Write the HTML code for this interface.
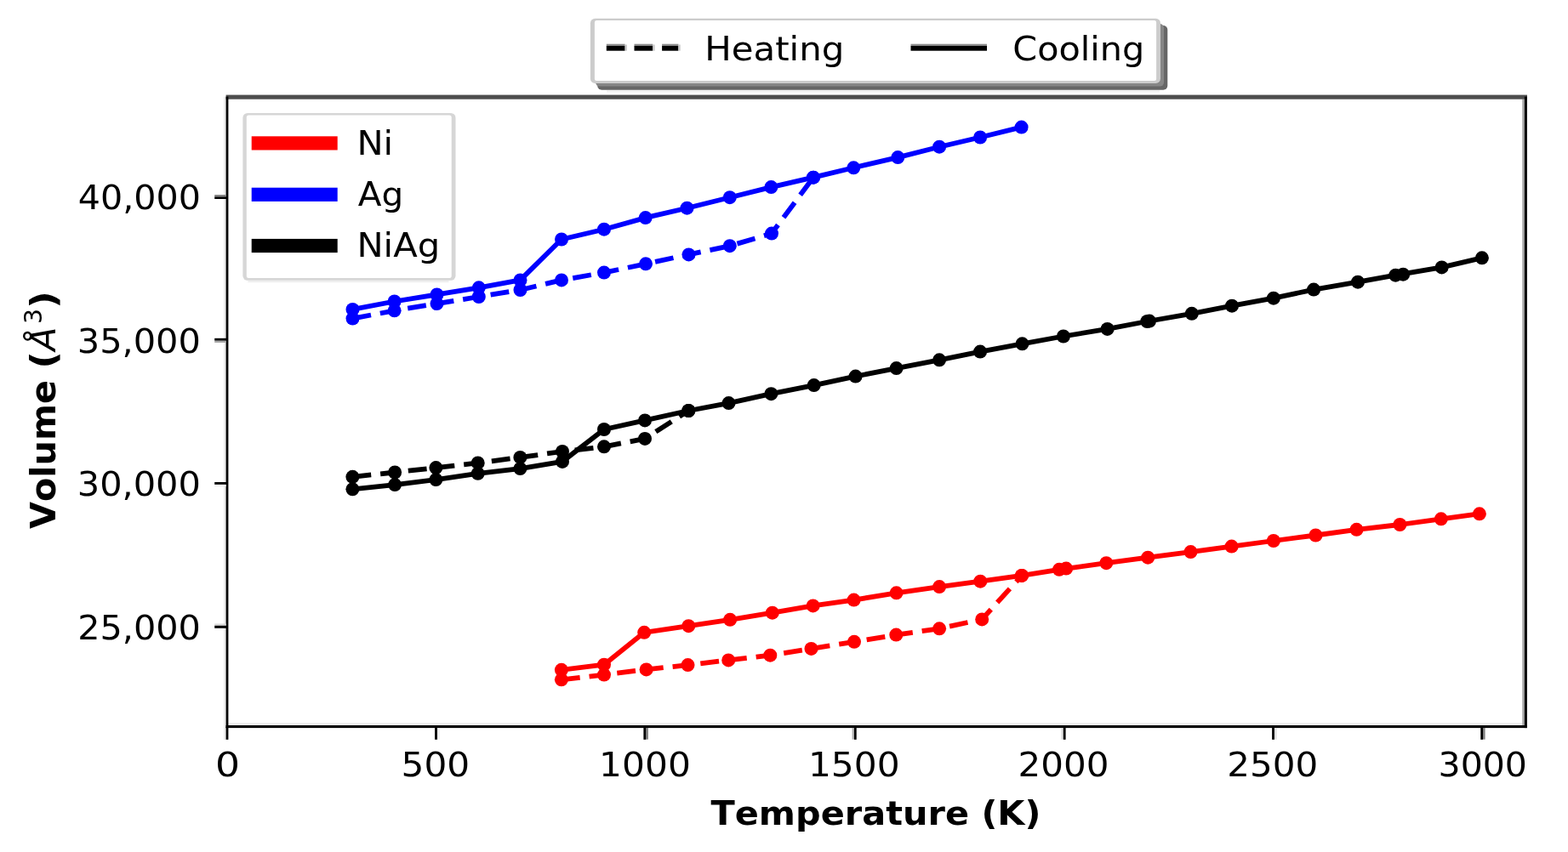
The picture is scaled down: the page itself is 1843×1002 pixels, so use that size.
<!DOCTYPE html>
<html lang="en">
<head>
<meta charset="utf-8">
<title>Volume vs Temperature</title>
<style>
html,body{margin:0;padding:0;background:#fff;}
body{width:1843px;height:1002px;overflow:hidden;}
svg{display:block;}
text{font-family:'DejaVu Sans','Liberation Sans',sans-serif;fill:#000;font-kerning:none;}
.b{font-weight:bold;}
</style>
</head>
<body>
<svg width="1843" height="1002" viewBox="0 0 1843 1002">
<g id="figure">
<rect x="0" y="0" width="1843" height="1002" fill="#ffffff"/>

<g id="data">
<polyline points="414.5,374.6 463.6,365.3 513.5,357.1 562.8,349.0 611.5,341.0 660.0,329.4 710.0,320.6 759.0,310.3 809.5,299.4 857.8,289.2 907.0,274.6 956.0,208.7" fill="none" stroke="#0000ff" stroke-width="5.8" stroke-dasharray="21.9 11.0" stroke-dashoffset="0" stroke-linejoin="round"/>
<polyline points="414.5,363.9 463.6,354.5 513.5,346.4 562.8,338.3 611.5,329.4 660.0,281.5 710.0,269.7 758.7,256.1 807.5,244.7 857.8,232.2 906.4,220.1 956.0,208.7 1003.3,197.3 1055.3,185.1 1104.1,172.7 1152.1,161.5 1200.6,149.6" fill="none" stroke="#0000ff" stroke-width="5.8" stroke-linejoin="round" stroke-linecap="square"/>
<circle cx="414.5" cy="363.9" r="8.0" fill="#0000ff"/>
<circle cx="463.6" cy="354.5" r="8.0" fill="#0000ff"/>
<circle cx="513.5" cy="346.4" r="8.0" fill="#0000ff"/>
<circle cx="562.8" cy="338.3" r="8.0" fill="#0000ff"/>
<circle cx="611.5" cy="329.4" r="8.0" fill="#0000ff"/>
<circle cx="660.0" cy="281.5" r="8.0" fill="#0000ff"/>
<circle cx="710.0" cy="269.7" r="8.0" fill="#0000ff"/>
<circle cx="758.7" cy="256.1" r="8.0" fill="#0000ff"/>
<circle cx="807.5" cy="244.7" r="8.0" fill="#0000ff"/>
<circle cx="857.8" cy="232.2" r="8.0" fill="#0000ff"/>
<circle cx="906.4" cy="220.1" r="8.0" fill="#0000ff"/>
<circle cx="956.0" cy="208.7" r="8.0" fill="#0000ff"/>
<circle cx="1003.3" cy="197.3" r="8.0" fill="#0000ff"/>
<circle cx="1055.3" cy="185.1" r="8.0" fill="#0000ff"/>
<circle cx="1104.1" cy="172.7" r="8.0" fill="#0000ff"/>
<circle cx="1152.1" cy="161.5" r="8.0" fill="#0000ff"/>
<circle cx="1200.6" cy="149.6" r="8.0" fill="#0000ff"/>
<circle cx="414.5" cy="374.6" r="8.0" fill="#0000ff"/>
<circle cx="463.6" cy="365.3" r="8.0" fill="#0000ff"/>
<circle cx="513.5" cy="357.1" r="8.0" fill="#0000ff"/>
<circle cx="562.8" cy="349.0" r="8.0" fill="#0000ff"/>
<circle cx="611.5" cy="341.0" r="8.0" fill="#0000ff"/>
<circle cx="660.0" cy="329.4" r="8.0" fill="#0000ff"/>
<circle cx="710.0" cy="320.6" r="8.0" fill="#0000ff"/>
<circle cx="759.0" cy="310.3" r="8.0" fill="#0000ff"/>
<circle cx="809.5" cy="299.4" r="8.0" fill="#0000ff"/>
<circle cx="857.8" cy="289.2" r="8.0" fill="#0000ff"/>
<circle cx="907.0" cy="274.6" r="8.0" fill="#0000ff"/>
<circle cx="956.0" cy="208.7" r="8.0" fill="#0000ff"/>
<polyline points="414.4,560.8 464.1,555.5 512.4,550.1 561.7,544.4 611.4,537.9 661.0,531.0 710.0,525.3 758.0,515.9 809.3,483.0" fill="none" stroke="#000000" stroke-width="5.8" stroke-dasharray="21.9 11.0" stroke-dashoffset="0" stroke-linejoin="round"/>
<polyline points="414.4,575.3 464.1,570.1 512.4,564.1 561.7,556.8 611.4,551.1 661.0,542.9 710.0,505.0 758.0,494.4 809.3,483.0 856.5,474.1 906.4,463.2 956.7,453.1 1005.6,442.6 1053.6,433.1 1104.1,423.3 1152.1,413.6 1201.5,404.3 1249.9,395.5 1301.6,386.9 1348.3,378.0 1400.8,368.8 1448.0,359.7 1496.9,350.7 1544.1,340.6 1596.0,331.7 1640.3,323.7 1694.6,314.4 1741.9,303.3" fill="none" stroke="#000000" stroke-width="5.8" stroke-linejoin="round" stroke-linecap="square"/>
<circle cx="414.4" cy="575.3" r="8.0" fill="#000000"/>
<circle cx="464.1" cy="570.1" r="8.0" fill="#000000"/>
<circle cx="512.4" cy="564.1" r="8.0" fill="#000000"/>
<circle cx="561.7" cy="556.8" r="8.0" fill="#000000"/>
<circle cx="611.4" cy="551.1" r="8.0" fill="#000000"/>
<circle cx="661.0" cy="542.9" r="8.0" fill="#000000"/>
<circle cx="710.0" cy="505.0" r="8.0" fill="#000000"/>
<circle cx="758.0" cy="494.4" r="8.0" fill="#000000"/>
<circle cx="809.3" cy="483.0" r="8.0" fill="#000000"/>
<circle cx="856.5" cy="474.1" r="8.0" fill="#000000"/>
<circle cx="906.4" cy="463.2" r="8.0" fill="#000000"/>
<circle cx="956.7" cy="453.1" r="8.0" fill="#000000"/>
<circle cx="1005.6" cy="442.6" r="8.0" fill="#000000"/>
<circle cx="1053.6" cy="433.1" r="8.0" fill="#000000"/>
<circle cx="1104.1" cy="423.3" r="8.0" fill="#000000"/>
<circle cx="1152.1" cy="413.6" r="8.0" fill="#000000"/>
<circle cx="1201.5" cy="404.3" r="8.0" fill="#000000"/>
<circle cx="1249.9" cy="395.5" r="8.0" fill="#000000"/>
<circle cx="1301.6" cy="386.9" r="8.0" fill="#000000"/>
<circle cx="1348.3" cy="378.0" r="8.0" fill="#000000"/>
<circle cx="1400.8" cy="368.8" r="8.0" fill="#000000"/>
<circle cx="1448.0" cy="359.7" r="8.0" fill="#000000"/>
<circle cx="1496.9" cy="350.7" r="8.0" fill="#000000"/>
<circle cx="1544.1" cy="340.6" r="8.0" fill="#000000"/>
<circle cx="1596.0" cy="331.7" r="8.0" fill="#000000"/>
<circle cx="1640.3" cy="323.7" r="8.0" fill="#000000"/>
<circle cx="1694.6" cy="314.4" r="8.0" fill="#000000"/>
<circle cx="1741.9" cy="303.3" r="8.0" fill="#000000"/>
<circle cx="414.4" cy="560.8" r="8.0" fill="#000000"/>
<circle cx="464.1" cy="555.5" r="8.0" fill="#000000"/>
<circle cx="512.4" cy="550.1" r="8.0" fill="#000000"/>
<circle cx="561.7" cy="544.4" r="8.0" fill="#000000"/>
<circle cx="611.4" cy="537.9" r="8.0" fill="#000000"/>
<circle cx="661.0" cy="531.0" r="8.0" fill="#000000"/>
<circle cx="710.0" cy="525.3" r="8.0" fill="#000000"/>
<circle cx="758.0" cy="515.9" r="8.0" fill="#000000"/>
<circle cx="809.3" cy="483.0" r="8.0" fill="#000000"/>
<circle cx="1649.2" cy="322.7" r="8.0" fill="#000000"/>
<circle cx="1351.0" cy="377.6" r="8.0" fill="#000000"/>
<polyline points="659.9,799.3 710.0,793.6 759.6,787.4 808.5,782.1 856.2,776.4 905.3,770.7 953.5,762.9 1004.0,754.8 1053.3,746.6 1104.1,739.3 1154.2,728.4 1201.0,676.9" fill="none" stroke="#ff0000" stroke-width="5.8" stroke-dasharray="21.9 11.0" stroke-dashoffset="0" stroke-linejoin="round"/>
<polyline points="659.9,787.8 710.0,781.7 757.2,743.8 809.3,736.2 858.1,728.8 907.8,720.7 955.6,712.4 1003.6,705.6 1053.6,697.3 1104.1,690.1 1152.3,683.7 1201.0,676.9 1245.0,669.8 1300.3,662.2 1349.2,655.7 1399.5,649.1 1447.6,642.6 1496.9,636.0 1546.4,629.5 1594.5,622.8 1645.4,617.0 1693.8,610.3 1738.9,604.3" fill="none" stroke="#ff0000" stroke-width="5.8" stroke-linejoin="round" stroke-linecap="square"/>
<circle cx="659.9" cy="787.8" r="8.0" fill="#ff0000"/>
<circle cx="710.0" cy="781.7" r="8.0" fill="#ff0000"/>
<circle cx="757.2" cy="743.8" r="8.0" fill="#ff0000"/>
<circle cx="809.3" cy="736.2" r="8.0" fill="#ff0000"/>
<circle cx="858.1" cy="728.8" r="8.0" fill="#ff0000"/>
<circle cx="907.8" cy="720.7" r="8.0" fill="#ff0000"/>
<circle cx="955.6" cy="712.4" r="8.0" fill="#ff0000"/>
<circle cx="1003.6" cy="705.6" r="8.0" fill="#ff0000"/>
<circle cx="1053.6" cy="697.3" r="8.0" fill="#ff0000"/>
<circle cx="1104.1" cy="690.1" r="8.0" fill="#ff0000"/>
<circle cx="1152.3" cy="683.7" r="8.0" fill="#ff0000"/>
<circle cx="1201.0" cy="676.9" r="8.0" fill="#ff0000"/>
<circle cx="1245.0" cy="669.8" r="8.0" fill="#ff0000"/>
<circle cx="1300.3" cy="662.2" r="8.0" fill="#ff0000"/>
<circle cx="1349.2" cy="655.7" r="8.0" fill="#ff0000"/>
<circle cx="1399.5" cy="649.1" r="8.0" fill="#ff0000"/>
<circle cx="1447.6" cy="642.6" r="8.0" fill="#ff0000"/>
<circle cx="1496.9" cy="636.0" r="8.0" fill="#ff0000"/>
<circle cx="1546.4" cy="629.5" r="8.0" fill="#ff0000"/>
<circle cx="1594.5" cy="622.8" r="8.0" fill="#ff0000"/>
<circle cx="1645.4" cy="617.0" r="8.0" fill="#ff0000"/>
<circle cx="1693.8" cy="610.3" r="8.0" fill="#ff0000"/>
<circle cx="1738.9" cy="604.3" r="8.0" fill="#ff0000"/>
<circle cx="659.9" cy="799.3" r="8.0" fill="#ff0000"/>
<circle cx="710.0" cy="793.6" r="8.0" fill="#ff0000"/>
<circle cx="759.6" cy="787.4" r="8.0" fill="#ff0000"/>
<circle cx="808.5" cy="782.1" r="8.0" fill="#ff0000"/>
<circle cx="856.2" cy="776.4" r="8.0" fill="#ff0000"/>
<circle cx="905.3" cy="770.7" r="8.0" fill="#ff0000"/>
<circle cx="953.5" cy="762.9" r="8.0" fill="#ff0000"/>
<circle cx="1004.0" cy="754.8" r="8.0" fill="#ff0000"/>
<circle cx="1053.3" cy="746.6" r="8.0" fill="#ff0000"/>
<circle cx="1104.1" cy="739.3" r="8.0" fill="#ff0000"/>
<circle cx="1154.2" cy="728.4" r="8.0" fill="#ff0000"/>
<circle cx="1201.0" cy="676.9" r="8.0" fill="#ff0000"/>
<circle cx="1253.1" cy="668.6" r="8.0" fill="#ff0000"/>
</g>
<g id="axes">
<rect x="268.3" y="850.2" width="1521" height="2.8" fill="#ededed"/>
<rect x="263.2" y="114" width="2.4" height="756" fill="#ececec"/>
<rect x="1789.3" y="116.6" width="2.6" height="737" fill="#a4a4a4"/>
<rect x="265.6" y="111.6" width="1529.4" height="5.1" fill="#4d4d4d"/>
<rect x="265.6" y="113.6" width="2.8" height="742.5" fill="#000"/>
<rect x="1791.9" y="113.6" width="3.0" height="742.5" fill="#000"/>
<rect x="265.6" y="853.0" width="1529.3" height="3.1" fill="#000"/>
<rect x="265.6" y="855" width="2.8" height="14.8" fill="#000"/>
<rect x="513.9" y="856" width="2.6" height="13.6" fill="#ececec"/>
<rect x="511.1" y="855" width="2.8" height="14.8" fill="#000"/>
<rect x="759.3" y="856" width="2.6" height="13.6" fill="#808080"/>
<rect x="756.4" y="855" width="2.9" height="14.8" fill="#000"/>
<rect x="1001.6" y="856" width="2.4" height="13.6" fill="#b0b0b0"/>
<rect x="1004.0" y="855" width="2.7" height="14.8" fill="#000"/>
<rect x="1247.4" y="856" width="2.4" height="13.6" fill="#dddddd"/>
<rect x="1249.8" y="855" width="2.8" height="14.8" fill="#000"/>
<rect x="1497.9" y="856" width="2.6" height="13.6" fill="#e0e0e0"/>
<rect x="1495.1" y="855" width="2.8" height="14.8" fill="#000"/>
<rect x="1743.0" y="856" width="2.6" height="13.6" fill="#808080"/>
<rect x="1740.3" y="855" width="2.7" height="14.8" fill="#000"/>
<rect x="252.2" y="229.1" width="13.5" height="2.4" fill="#808080"/>
<rect x="252.2" y="231.4" width="14" height="2.6" fill="#000"/>
<rect x="252.2" y="400.6" width="13.5" height="2.4" fill="#a8a8a8"/>
<rect x="252.2" y="397.8" width="14" height="2.8" fill="#000"/>
<rect x="252.2" y="569.8" width="13.5" height="2.4" fill="#f0f0f0"/>
<rect x="252.2" y="567.0" width="14" height="2.8" fill="#000"/>
<rect x="252.2" y="733.5" width="13.5" height="2.4" fill="#d8d8d8"/>
<rect x="252.2" y="735.8" width="14" height="3.0" fill="#000"/>
</g>
<g id="ticklabels">
<text x="253.11" y="912.80" font-size="39.5" textLength="29.01" lengthAdjust="spacingAndGlyphs">0</text>
<text x="471.62" y="912.80" font-size="39.5" textLength="80.58" lengthAdjust="spacingAndGlyphs">500</text>
<text x="704.14" y="912.80" font-size="39.5" textLength="107.71" lengthAdjust="spacingAndGlyphs">1000</text>
<text x="949.94" y="912.80" font-size="39.5" textLength="107.71" lengthAdjust="spacingAndGlyphs">1500</text>
<text x="1196.56" y="912.80" font-size="39.5" textLength="106.87" lengthAdjust="spacingAndGlyphs">2000</text>
<text x="1442.36" y="912.80" font-size="39.5" textLength="106.87" lengthAdjust="spacingAndGlyphs">2500</text>
<text x="1690.62" y="912.80" font-size="39.5" textLength="104.34" lengthAdjust="spacingAndGlyphs">3000</text>
<text x="91.84" y="246.30" font-size="39.5" textLength="144.00" lengthAdjust="spacingAndGlyphs">40,000</text>
<text x="90.78" y="414.80" font-size="39.5" textLength="145.08" lengthAdjust="spacingAndGlyphs">35,000</text>
<text x="90.78" y="583.30" font-size="39.5" textLength="145.08" lengthAdjust="spacingAndGlyphs">30,000</text>
<text x="91.21" y="751.90" font-size="39.5" textLength="144.65" lengthAdjust="spacingAndGlyphs">25,000</text>
</g>
<g id="axislabels">
<text class="b" x="835.50" y="969.70" font-size="39.8" textLength="387.93" lengthAdjust="spacingAndGlyphs">Temperature (K)</text>
<g transform="translate(65.2,622.0) rotate(-90)"><text class="b" font-size="40"><tspan x="-0.01" y="0.00" font-size="40.0" textLength="174.91" lengthAdjust="spacingAndGlyphs">Volume</tspan> <tspan x="188.32" y="0.00" font-size="40.0" textLength="20.73" lengthAdjust="spacingAndGlyphs">(</tspan><tspan x="209.44" y="0.00" font-size="40.0" textLength="27.89" lengthAdjust="spacingAndGlyphs" font-weight="normal" font-style="italic">Å</tspan><tspan x="241.05" y="-16.00" font-size="28.5" textLength="17.89" lengthAdjust="spacingAndGlyphs" font-weight="normal">3</tspan><tspan x="259.21" y="0.00" font-size="40.0" textLength="20.49" lengthAdjust="spacingAndGlyphs">)</tspan></text></g>
</g>
<g id="legend1">
<rect x="291.4" y="329.8" width="236.1" height="2.4" fill="#efefef"/><rect x="285.4" y="132.9" width="250.1" height="196.9" rx="5.5" ry="5.5" fill="#d6d6d6"/><rect x="289.8" y="135.6" width="240.9" height="191.4" rx="2.5" ry="2.5" fill="#ffffff"/>
<rect x="295.7" y="160.3" width="101" height="16.2" fill="#ff0000"/>
<text x="419.43" y="182.20" font-size="39.2" textLength="42.77" lengthAdjust="spacingAndGlyphs">Ni</text>
<rect x="295.7" y="220.7" width="101" height="16.2" fill="#0000ff"/>
<text x="420.80" y="241.90" font-size="39.2" textLength="53.40" lengthAdjust="spacingAndGlyphs">Ag</text>
<rect x="295.7" y="280.9" width="101" height="16.2" fill="#000000"/>
<text x="419.43" y="301.90" font-size="39.2" textLength="97.72" lengthAdjust="spacingAndGlyphs">NiAg</text>
</g>
<g id="legend2">
<rect x="713" y="106.1" width="650" height="2.4" fill="#f0f0f0"/>
<rect x="702.2" y="30.1" width="670.1" height="75.6" rx="5" ry="5" fill="#666666"/>
<rect x="700" y="28" width="668.1" height="73.6" rx="5" ry="5" fill="#868686"/>
<rect x="693.9" y="21.7" width="670.1" height="76.2" rx="5.5" ry="5.5" fill="#cccccc"/><rect x="698.9" y="24.1" width="660.2" height="71.0" rx="2.5" ry="2.5" fill="#ffffff"/>
<rect x="712.8" y="51.7" width="21.8" height="2.6" fill="#8a8a8a"/>
<rect x="712.8" y="54.0" width="21.8" height="5.7" fill="#000"/>
<rect x="734.6" y="52.5" width="2.3" height="7.2" fill="#c8c8c8"/>
<rect x="745.5" y="51.7" width="21.8" height="2.6" fill="#8a8a8a"/>
<rect x="745.5" y="54.0" width="21.8" height="5.7" fill="#000"/>
<rect x="767.3" y="52.5" width="2.3" height="7.2" fill="#c8c8c8"/>
<rect x="778.1" y="51.7" width="19.3" height="2.6" fill="#8a8a8a"/>
<rect x="778.1" y="54.0" width="19.3" height="5.7" fill="#000"/>
<rect x="797.4" y="52.5" width="2.3" height="7.2" fill="#c8c8c8"/>
<text x="828.21" y="70.60" font-size="39.2" textLength="164.20" lengthAdjust="spacingAndGlyphs">Heating</text>
<rect x="1070.5" y="51.7" width="89.5" height="2.6" fill="#8a8a8a"/>
<rect x="1070.5" y="54.0" width="89.5" height="5.7" fill="#000"/>
<text x="1190.32" y="70.60" font-size="39.2" textLength="155.05" lengthAdjust="spacingAndGlyphs">Cooling</text>
</g>
</g>
</svg>
</body>
</html>
